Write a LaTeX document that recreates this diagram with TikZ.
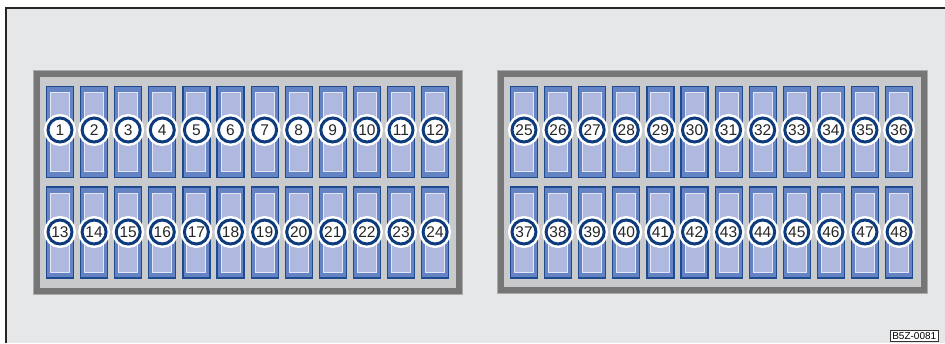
\documentclass[tikz,border=0pt]{standalone}
\usepackage{fontspec}
\setmainfont{Liberation Sans}
\usetikzlibrary{positioning,backgrounds}
\definecolor{boxgray}{HTML}{E6E7E9}
\definecolor{panelfill}{HTML}{C9CACC}
\definecolor{paneledge}{HTML}{767676}
\definecolor{panelline}{HTML}{ABABAB}
\definecolor{fuseblue}{HTML}{6383C4}
\definecolor{fuseedge}{HTML}{1F4B8E}
\definecolor{fusecorefill}{HTML}{AFB8DE}
\definecolor{fusecoreedge}{HTML}{E2E6F5}
\definecolor{ringblue}{HTML}{0D3B7C}

\tikzset{
  panel/.style={draw=paneledge, fill=panelfill, line width=7pt, inner sep=0pt},
  fuse/.style={draw=fuseedge, fill=fuseblue, line width=1.2pt, minimum width=27pt, minimum height=91pt, inner sep=0pt},
  fusecore/.style={draw=fusecoreedge, fill=fusecorefill, line width=1pt, minimum width=19pt, minimum height=79pt, inner sep=0pt},
  fusenum/.style={circle, draw=ringblue, line width=3pt, fill=white, minimum size=24pt, inner sep=0pt,
    preaction={draw=white, line width=8pt}, font=\fontsize{15.5}{15.5}\selectfont, text=black!85},
  tag/.style={draw=black!80, fill=white, line width=0.6pt, inner sep=2pt, font=\fontsize{10}{10}\selectfont}
}

\begin{document}
\begin{tikzpicture}[x=1pt,y=-1pt]
\useasboundingbox (0,0) rectangle (945,343);
\fill[white] (0,0) rectangle (945,343);
\fill[boxgray] (6,8) rectangle (945,343);
\draw[black!85, line width=1.5pt] (6,343) -- (6,8) -- (945,8);

% the two fuse carriers
\node[panel, minimum width=423pt, minimum height=218pt] (lpanel) at (248,182.5) {};
\node[panel, minimum width=424pt, minimum height=217pt] (rpanel) at (712.5,182) {};
\draw[panelline, line width=0.9pt] ([shift={(0.5,0.5)}]lpanel.north west) rectangle ([shift={(-0.5,-0.5)}]lpanel.south east);
\draw[panelline, line width=0.9pt] ([shift={(0.5,0.5)}]rpanel.north west) rectangle ([shift={(-0.5,-0.5)}]rpanel.south east);

% fuses, top row then bottom row
\foreach \i in {0,...,11} {
  \pgfmathtruncatemacro{\na}{\i+1}
  \pgfmathtruncatemacro{\nb}{\i+13}
  \pgfmathtruncatemacro{\nc}{\i+25}
  \pgfmathtruncatemacro{\nd}{\i+37}
  \node[fuse] (f\na) at (60+34.1*\i,132) {};
  \node[fuse] (f\nb) at (60+34.1*\i,232.5) {};
  \node[fuse] (f\nc) at (524+34.1*\i,132) {};
  \node[fuse] (f\nd) at (524+34.1*\i,232.5) {};
  \foreach \n in {\na,\nb,\nc,\nd} {
    \node[fusecore] (c\n) at (f\n.center) {};
  }
  \node[fusenum] (n\na) at ([yshift=2]f\na.center) {\na};
  \node[fusenum] (n\nb) at ([yshift=0.5]f\nb.center) {\nb};
  \node[fusenum] (n\nc) at ([yshift=2]f\nc.center) {\nc};
  \node[fusenum] (n\nd) at ([yshift=0.5]f\nd.center) {\nd};
}

\node[tag, anchor=north west] (code) at (890,330) {B5Z-0081};
\end{tikzpicture}
\end{document}
